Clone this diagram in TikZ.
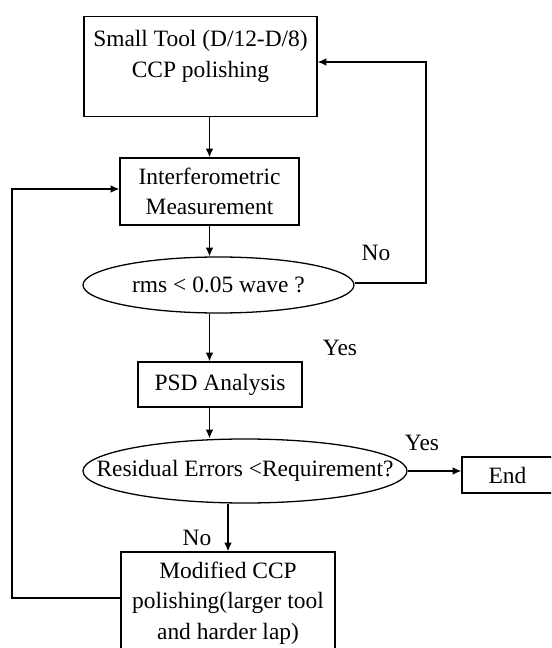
\documentclass[tikz,border=0pt]{standalone}
\usepackage{fontspec}
\setmainfont{Liberation Serif}
\usepackage{tikz}
\usetikzlibrary{shapes.geometric,arrows.meta}

\begin{document}
\begin{tikzpicture}[>={Latex[length=7.5pt,width=6.5pt]},
      every node/.style={font=\fontsize{20}{26}\selectfont},
      box/.style={draw,line width=1.1pt,rectangle,align=center,inner sep=0pt},
      test/.style={draw,line width=1.1pt,ellipse,align=center,inner ysep=0pt},
      flow/.style={->,line width=1.1pt}]
    \useasboundingbox (0,0) rectangle (16.53,-19.44);
    \clip (0,0) rectangle (16.53,-19.44);
    \node (tool) [box,anchor=north,minimum width=6.99cm,text height=1.83cm,text depth=1.17cm]
      at (6.015,-0.48) {Small Tool (D/12-D/8)\\[1pt]CCP polishing};
    \node (meas) [box,minimum width=5.37cm,minimum height=2.01cm]
      at (6.285,-5.745) {Interferometric\\Measurement};
    \node (rms) [test,inner xsep=0pt,minimum width=8.13cm,minimum height=1.68cm]
      at (6.555,-8.55) {rms < 0.05 wave ?};
    \node (psd) [box,minimum width=4.92cm,minimum height=1.35cm]
      at (6.6,-11.535) {PSD Analysis};
    \node (resid) [test,inner xsep=-1.2cm,minimum width=9.72cm,minimum height=1.92cm]
      at (7.35,-14.13) {Residual Errors <Requirement?};
    \node (fin) [box,minimum width=2.73cm,minimum height=1.08cm]
      at (15.225,-14.25) {End};
    \node (mod) [box,minimum width=6.42cm,minimum height=3.06cm]
      at (6.84,-18.09) {Modified CCP\\polishing(larger tool\\and harder lap)};

    \node (no1) at (11.28,-7.59) {No};
    \node (yes1) at (10.2,-10.44) {Yes};
    \node (yes2) at (12.66,-13.29) {Yes};
    \node (no2) at (5.91,-16.14) {No};

    \coordinate (rtlow) at (12.78,-8.49);
    \coordinate (rthigh) at (12.78,-1.86);
    \coordinate (lflow) at (0.36,-17.94);
    \coordinate (lfhigh) at (0.36,-5.67);

    \draw[flow] (meas.north |- tool.south) -- (meas.north);
    \draw[flow] (meas.south) -- (meas.south |- rms.north);
    \draw[flow] (meas.south |- rms.south) -- (meas.south |- psd.north);
    \draw[flow] (meas.south |- psd.south) -- (meas.south |- resid.north);
    \draw[flow] (resid.east) -- (resid.east -| fin.west);
    \draw[flow] (mod.north |- resid.south) -- (mod.north);
    \draw[flow] (rtlow -| rms.east) -- (rtlow) -- (rthigh) -- (rthigh -| tool.east);
    \draw[flow] (lflow -| mod.west) -- (lflow) -- (lfhigh) -- (lfhigh -| meas.west);
\end{tikzpicture}
\end{document}
